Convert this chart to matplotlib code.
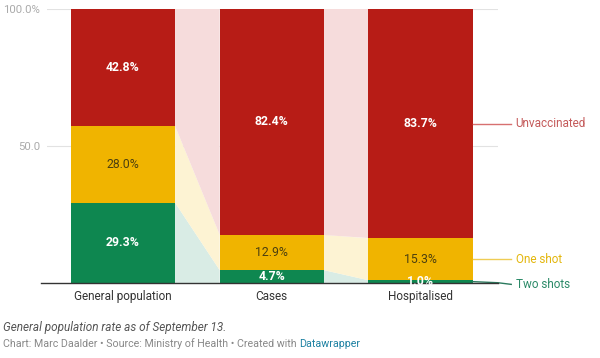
import numpy as np
import matplotlib.pyplot as plt
from matplotlib.patches import Polygon

# data (percent)
categories = ["General population", "Cases", "Hospitalised"]
series = ["Two shots", "One shot", "Unvaccinated"]
two_shots = [29.3, 4.7, 1.0]
one_shot = [28.0, 12.9, 15.3]
unvaccinated = [42.8, 82.4, 83.7]

colors = ["#0e8750", "#f0b400", "#b71c16"]
light_colors = ["#d9ece5", "#fdf3d3", "#f6dcdc"]
label_colors = ["#2b8a68", "#e3b60c", "#c45a5a"]
line_colors = ["#2b7a5e", "#efcc55", "#d77070"]
text_colors = ["white", "#4b3f10", "white"]
text_weights = ["bold", "normal", "bold"]

plt.rcParams['font.family'] = ['Roboto', 'DejaVu Sans']

fig = plt.figure(figsize=(6, 3.58), dpi=100)
ax = fig.add_axes([47 / 600, 75 / 358, (498 - 47) / 600, (283 - 9) / 358])

x = np.arange(len(categories))
width = 0.7
values = np.array([two_shots, one_shot, unvaccinated])
bottoms = np.vstack([np.zeros(len(categories)), np.cumsum(values, axis=0)[:-1]])
tops = bottoms + values

# gridlines
for g in [50, 100]:
    ax.axhline(g, color="#e2e2e2", lw=0.8, zorder=0)

# connectors between bars
for s in range(len(series)):
    for i in range(len(categories) - 1):
        x0 = x[i] + width / 2
        x1 = x[i + 1] - width / 2
        poly = Polygon([(x0, bottoms[s, i]), (x0, tops[s, i]),
                        (x1, tops[s, i + 1]), (x1, bottoms[s, i + 1])],
                       closed=True, facecolor=light_colors[s], edgecolor="none", zorder=1)
        ax.add_patch(poly)

# bars
for s in range(len(series)):
    ax.bar(x, values[s], width, bottom=bottoms[s], color=colors[s], zorder=2)
    for i in range(len(categories)):
        ax.text(x[i], bottoms[s, i] + values[s, i] / 2, f"{values[s, i]:.1f}%",
                ha="center", va="center", fontsize=8.8, color=text_colors[s],
                fontweight=text_weights[s], zorder=4)

# right-hand series labels
last = len(categories) - 1
xe = x[last] + width / 2
label_y = [-0.5, None, None]
for s in range(len(series)):
    ymid = bottoms[s, last] + values[s, last] / 2
    yl = ymid if label_y[s] is None else label_y[s]
    ax.plot([xe, xe + 0.17, xe + 0.26], [ymid, ymid + (yl - ymid) * 0.4, yl],
            color=line_colors[s], lw=1, clip_on=False, zorder=3)
    ax.text(xe + 0.29, yl, series[s], color=label_colors[s], fontsize=8.5,
            ha="left", va="center", clip_on=False)

# baseline
ax.plot([-0.55, 2.52], [0, 0], color="#333333", lw=1, clip_on=False, zorder=3)

ax.set_xlim(-0.511, 2.521)
ax.set_ylim(0, 100)
ax.set_xticks(x)
ax.set_xticklabels(categories, fontsize=8.5, color="#333333")
ax.set_yticks([50, 100])
ax.set_yticklabels(["50.0", "100.0%"], fontsize=8.2, color="#aaaaaa")
ax.tick_params(length=0, axis="y", pad=5)
ax.tick_params(length=0, axis="x", pad=5)
for sp in ax.spines.values():
    sp.set_visible(False)

fig.text(3 / 600, 1 - 327 / 358, "General population rate as of September 13.",
         fontsize=8.5, style="italic", color="#555555", va="center")
t = fig.text(3 / 600, 1 - 344 / 358,
             "Chart: Marc Daalder \u2022 Source: Ministry of Health \u2022 Created with ",
             fontsize=7.7, color="#888888", va="center")
fig.canvas.draw()
bb = t.get_window_extent()
fig.text(bb.x1 / 600, 1 - 344 / 358, "Datawrapper", fontsize=7.7, color="#1d81a2", va="center")

fig.savefig("out.png", dpi=100)
